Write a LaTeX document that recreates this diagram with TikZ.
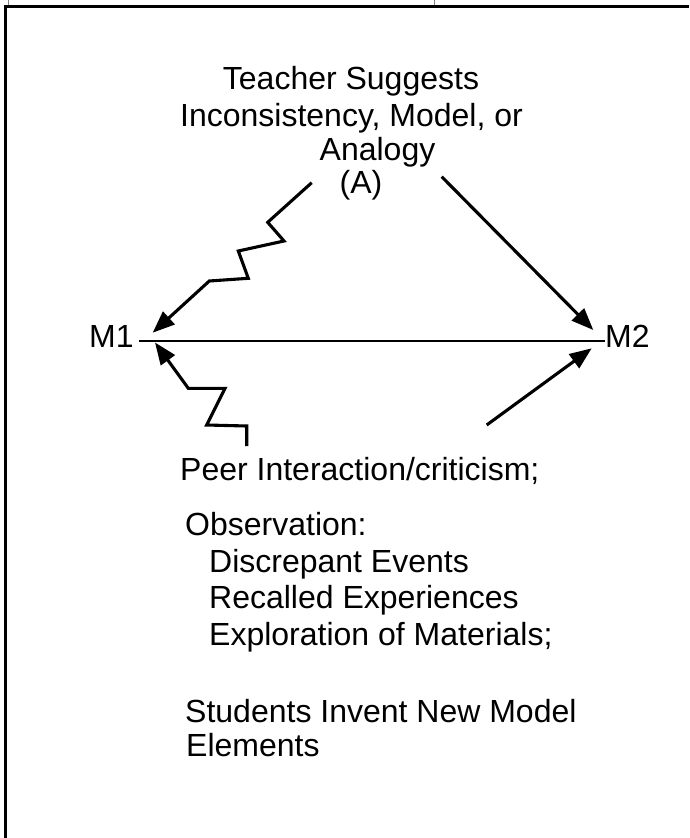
\documentclass[tikz,border=0pt]{standalone}
\usepackage{fontspec}
\setmainfont{Liberation Sans}
\usetikzlibrary{arrows.meta}
\begin{document}
\begin{tikzpicture}[x=1pt,y=-1pt,
  txt/.style={inner sep=0pt,font=\fontsize{32}{36}\selectfont},
  frame/.style={line width=2.8pt},
  link/.style={line width=3.1pt,line join=miter},
  arr/.style={link,-{Triangle[length=22pt,width=17pt]}}]
\useasboundingbox (0,0) rectangle (689,838);

% cell border of the surrounding table
\draw[frame] (5.2,838) -- (5.2,6.2) -- (689,6.2);
\draw[line width=1pt,gray] (8,0) -- (8,5);
\draw[line width=1pt,gray] (434,0) -- (434,5);

% teacher prompt
\node[txt,anchor=base] (t1) at (351,89) {Teacher Suggests};
\node[txt,anchor=base] (t2) at (351.5,126) {Inconsistency, Model, or};
\node[txt,anchor=base] (t3) at (377.5,160) {Analogy};
\node[txt,anchor=base] (t4) at (361,193.5) {(A)};

% the two models
\node[txt,anchor=base west] (m1) at (89,347) {M1};
\node[txt,anchor=base west] (m2) at (605,347) {M2};
\coordinate (l1) at (139,341);
\coordinate (l2) at (605,341);
\draw[line width=2.9pt] (l1) -- (l2);

% arrow end points
\coordinate (ta) at (311.7,182.7);
\coordinate (tb) at (441.7,176.7);
\coordinate (ba) at (246.7,446);
\coordinate (bb) at (486.7,425);
\coordinate (h1) at (152.7,332.7);
\coordinate (h2) at (155,342.5);
\coordinate (h3) at (593.3,330);
\coordinate (h4) at (591.7,348.3);

% zigzag and straight arrows
\draw[arr] (ta) -- (267.7,222.3) -- (284,241) -- (238.3,251)
  -- (248.3,278.3) -- (209.3,281) -- (h1);
\draw[arr] (tb) -- (h3);
\draw[arr] (ba) -- (246.7,426) -- (206.7,425) -- (225,388.3)
  -- (188.3,388.3) -- (h2);
\draw[arr] (bb) -- (h4);

% influences on the students
\node[txt,anchor=base west] (p1) at (180,480) {Peer Interaction/criticism;};
\node[txt,anchor=base west] (o1) at (185,535) {Observation:};
\node[txt,anchor=base west] (o2) at (209,572.5) {Discrepant Events};
\node[txt,anchor=base west] (o3) at (209,608.5) {Recalled Experiences};
\node[txt,anchor=base west] (o4) at (209,645) {Exploration of Materials;};
\node[txt,anchor=base west] (s1) at (185,722) {Students Invent New Model};
\node[txt,anchor=base west] (s2) at (186,756) {Elements};
\end{tikzpicture}
\end{document}
